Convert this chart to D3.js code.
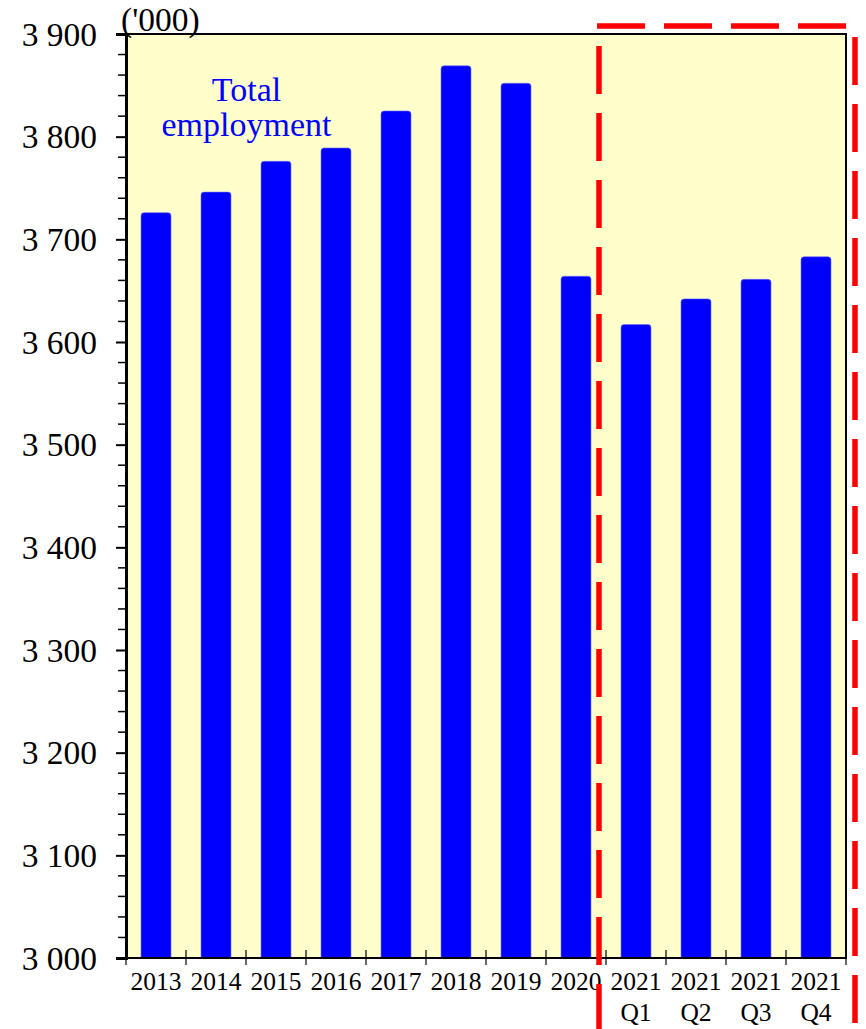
<!DOCTYPE html>
<html>
<head>
<meta charset="utf-8">
<script src="https://cdn.jsdelivr.net/npm/d3@7"></script>
<style>
  html, body { margin: 0; padding: 0; background: #fff; }
  svg { display: block; }
  text { font-family: "Liberation Serif", "Times New Roman", serif; }
</style>
</head>
<body>
<svg id="chart" width="866" height="1029"></svg>
<script>
// Total employment ('000), annual 2013-2020 and quarterly 2021
const categories = ["2013", "2014", "2015", "2016", "2017", "2018", "2019", "2020",
                    "2021 Q1", "2021 Q2", "2021 Q3", "2021 Q4"];
const labelLines = [["2013"], ["2014"], ["2015"], ["2016"], ["2017"], ["2018"], ["2019"], ["2020"],
                    ["2021", "Q1"], ["2021", "Q2"], ["2021", "Q3"], ["2021", "Q4"]];
const employment = [3726, 3746, 3776, 3789, 3825, 3869, 3852, 3664, 3617, 3642, 3661, 3683];
const yTicks = [3000, 3100, 3200, 3300, 3400, 3500, 3600, 3700, 3800, 3900];
const unitLabel = "('000)";
const seriesLabel = ["Total", "employment"];

const svg = d3.select("#chart");
const m = { left: 126, top: 34, right: 846, bottom: 958 };

const x = d3.scaleBand().domain(categories).range([m.left, m.right]).paddingInner(0).paddingOuter(0);
const y = d3.scaleLinear().domain([3000, 3900]).range([m.bottom, m.top]);

// plot background
svg.append("rect")
  .attr("x", m.left).attr("y", m.top)
  .attr("width", m.right - m.left).attr("height", m.bottom - m.top)
  .attr("fill", "#ffffcc");

// bars with rounded tops
const bw = x.bandwidth() * 0.5;
const r = 3;
svg.append("g").selectAll("path").data(categories).join("path")
  .attr("fill", "#0000ff")
  .attr("stroke", "#6a6aff").attr("stroke-width", 0.6)
  .attr("d", (c, i) => {
    const x0 = x(c) + (x.bandwidth() - bw) / 2, x1 = x0 + bw;
    const yt = y(employment[i]), yb = y(3000);
    return `M${x0},${yb} L${x0},${yt + r} Q${x0},${yt} ${x0 + r},${yt} L${x1 - r},${yt} Q${x1},${yt} ${x1},${yt + r} L${x1},${yb} Z`;
  });

// plot frame
svg.append("rect")
  .attr("x", m.left).attr("y", m.top)
  .attr("width", m.right - m.left).attr("height", m.bottom - m.top)
  .attr("fill", "none").attr("stroke", "#000").attr("stroke-width", 2);

// y axis: major ticks every 100, minor every 20
const yAxis = d3.axisLeft(y).tickValues(yTicks).tickSize(10).tickPadding(19)
  .tickFormat(d => d3.format(",")(d).replace(",", " "));
const gy = svg.append("g").attr("transform", `translate(${m.left},0)`).call(yAxis);
gy.attr("font-family", null).attr("font-size", null);
gy.select(".domain").attr("stroke", "#000").attr("stroke-width", 3);
gy.selectAll(".tick line").attr("stroke", "#000").attr("stroke-width", 2);
gy.selectAll(".tick text").attr("font-size", 33.5).attr("fill", "#000").attr("dy", "0.33em");
const minor = d3.range(3000, 3901, 20).filter(v => v % 100 !== 0);
svg.append("g").selectAll("line").data(minor).join("line")
  .attr("x1", m.left - 8).attr("x2", m.left)
  .attr("y1", d => y(d)).attr("y2", d => y(d))
  .attr("stroke", "#000").attr("stroke-width", 1.5);

// x axis: ticks at category boundaries, crossing the axis line
const bounds = categories.map(c => x(c)).concat([m.right]);
svg.append("line").attr("x1", m.left).attr("x2", m.right)
  .attr("y1", m.bottom).attr("y2", m.bottom).attr("stroke", "#000").attr("stroke-width", 2);
svg.append("g").selectAll("line").data(bounds).join("line")
  .attr("x1", d => d).attr("x2", d => d)
  .attr("y1", m.bottom - 8).attr("y2", m.bottom + 7)
  .attr("stroke", "#000").attr("stroke-width", 1.2);
const xl = svg.append("g").selectAll("text").data(categories).join("text")
  .attr("text-anchor", "middle").attr("font-size", 25.5).attr("fill", "#000")
  .attr("x", c => x(c) + x.bandwidth() / 2).attr("y", 990);
xl.each(function (c, i) {
  d3.select(this).selectAll("tspan").data(labelLines[i]).join("tspan")
    .attr("x", x(c) + x.bandwidth() / 2)
    .attr("dy", (d, j) => j === 0 ? 0 : 31)
    .text(d => d);
});

// unit label
svg.append("text").attr("x", 121).attr("y", 31).attr("font-size", 33.5).attr("fill", "#000").text(unitLabel);

// series label
svg.append("text").attr("text-anchor", "middle").attr("font-size", 34).attr("fill", "#0000ff")
  .selectAll("tspan").data(seriesLabel).join("tspan")
  .attr("x", 246.5).attr("y", (d, i) => 101 + i * 35).text(d => d);

// dashed frame marking the 2021 quarterly figures
const dash = "48,19";
const red = svg.append("g").attr("stroke", "#ff0000").attr("stroke-width", 5.5).attr("fill", "none")
  .attr("stroke-dasharray", dash);
const xSplit = x("2021 Q1") - 7;
red.append("line").attr("x1", xSplit - 2).attr("x2", 854).attr("y1", 26).attr("y2", 26);
red.append("line").attr("x1", xSplit).attr("x2", xSplit).attr("y1", 46).attr("y2", 1060);
red.append("line").attr("x1", 855).attr("x2", 855).attr("y1", 37).attr("y2", 1060);
</script>
</body>
</html>
